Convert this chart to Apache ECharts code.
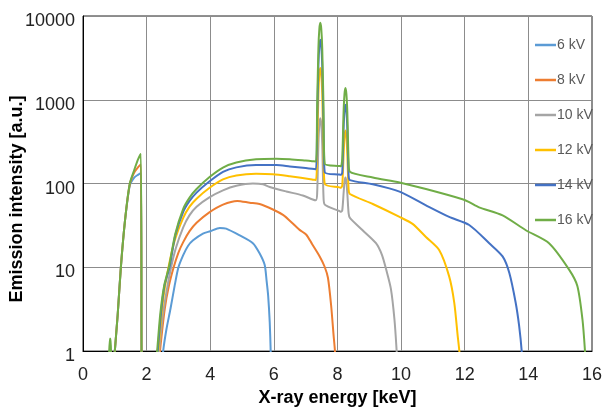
<!DOCTYPE html>
<html>
<head>
<meta charset="utf-8">
<script src="https://cdn.jsdelivr.net/npm/echarts@6/dist/echarts.min.js"></script>
<style>
html,body{margin:0;padding:0;background:#fff;}
#chart{width:605px;height:412px;}
</style>
</head>
<body>
<div id="chart"></div>
<script>
// Tick values
const xTicks = [0, 2, 4, 6, 8, 10, 12, 14, 16];
const yTicks = [1, 10, 100, 1000, 10000];
const seriesNames = ['6 kV', '8 kV', '10 kV', '12 kV', '14 kV', '16 kV'];
const seriesColors = ['#5B9BD5', '#ED7D31', '#A5A5A5', '#FFC000', '#4472C4', '#70AD47'];

// [energy keV, intensity a.u.] — values below 1 lie beneath the axis and are clipped
const kv6 = [[0.95,0.5],[1.0,1],[1.09,2.7],[1.19,10],[1.32,36],[1.47,95],[1.61,118],[1.74,128],[1.82,134],[1.84,1],[1.85,0.5],
  [2.45,0.5],[2.52,1],[2.62,1.8],[2.75,3.2],[2.88,6],[3.0,10],[3.15,14],[3.3,18],[3.46,21],[3.77,25.3],[4.0,27],[4.3,29.5],[4.5,29],[4.93,24],[5.34,19.4],[5.55,14.7],[5.71,10.7],[5.77,7],[5.82,4.6],[5.87,2.2],[5.9,1],[5.92,0.5]];
const kv8 = [[0.95,0.5],[1.0,1],[1.09,2.7],[1.19,10],[1.32,36],[1.47,98],[1.61,135],[1.74,158],[1.82,169],[1.84,1],[1.85,0.5],
  [2.35,0.5],[2.42,1],[2.57,3.2],[2.7,6],[2.85,10],[3.0,15],[3.15,20],[3.35,27],[3.57,34],[3.96,45],[4.4,56],[4.85,62],[5.24,59],[5.55,57],[5.97,49],[6.3,42],[6.5,36],[6.81,28],[7.02,24.5],[7.2,19],[7.44,13.5],[7.59,10.3],[7.7,7.5],[7.8,3.5],[7.88,1.5],[7.92,1],[7.95,0.5]];
const kv10 = [[2.32,0.5],[2.39,1],[2.5,2.5],[2.62,5],[2.77,10],[2.92,17],[3.15,30],[3.35,42],[3.57,53],[3.96,68],[4.4,83],[4.82,94],[5.34,100],[5.66,98],[5.87,91],[6.39,80.5],[6.91,72],[7.2,65],
  [7.32,63],[7.36,75],[7.40,300],[7.43,510],[7.46,600],[7.49,510],[7.52,300],[7.56,70],[7.60,56],
  [8.06,47],[8.11,46],[8.15,48],[8.19,75],[8.22,105],[8.25,118],[8.28,105],[8.31,75],[8.35,44],[8.39,39],
  [8.79,27.7],[9.21,19.4],[9.4,14],[9.53,9.4],[9.68,5.5],[9.79,2.4],[9.86,1],[9.9,0.5]];
const kv12 = [[2.3,0.5],[2.37,1],[2.47,2.8],[2.58,6],[2.73,12],[2.9,22],[3.15,39],[3.35,53],[3.57,66],[3.96,88],[4.4,112],[4.82,125],[5.44,131],[5.97,129],[6.5,122],[7.2,112],
  [7.32,110],[7.36,240],[7.40,1200],[7.43,2040],[7.46,2400],[7.49,2040],[7.52,1200],[7.56,240],[7.60,99],
  [8.06,90],[8.11,89],[8.15,95],[8.19,215],[8.22,365],[8.25,430],[8.28,365],[8.31,215],[8.35,85],[8.39,75],
  [9.11,57],[9.95,40],[10.36,33],[10.78,23],[11.2,16],[11.51,7.8],[11.67,3.8],[11.78,1.5],[11.83,1],[11.87,0.5]];
const kv14 = [[2.28,0.5],[2.35,1],[2.45,2.8],[2.56,6],[2.72,10],[2.9,24],[3.15,46],[3.35,62],[3.57,78],[3.96,105],[4.4,138],[4.82,156],[5.44,166],[6.08,166],[6.5,160],[7.0,153],[7.2,150],
  [7.32,148],[7.36,520],[7.40,2600],[7.43,4420],[7.46,5200],[7.49,4420],[7.52,2600],[7.56,520],[7.60,136],
  [8.06,128],[8.11,127],[8.15,135],[8.19,435],[8.22,740],[8.25,870],[8.28,740],[8.31,435],[8.35,125],[8.39,110],
  [9.11,98],[9.95,80],[10.78,55],[11.51,40],[12.14,32],[12.77,19.4],[13.19,13.5],[13.4,8.6],[13.6,3.8],[13.71,2],[13.79,1],[13.83,0.5]];
const kv16 = [[0.8,0.5],[0.84,1.4],[0.87,1.4],[0.9,0.5],[0.95,0.5],[1.0,1],[1.09,2.7],[1.19,10],[1.32,36],[1.47,100],[1.61,145],[1.74,198],[1.82,225],[1.84,1],[1.85,0.5],
  [2.26,0.5],[2.33,1],[2.43,2.8],[2.55,6],[2.7,10],[2.9,25],[3.15,50],[3.35,68],[3.57,86],[3.96,118],[4.4,155],[4.82,178],[5.44,195],[6.08,198],[6.5,195],[7.0,188],[7.2,185],
  [7.32,183],[7.36,830],[7.40,4150],[7.43,7050],[7.46,8300],[7.49,7050],[7.52,4150],[7.56,830],[7.60,172],
  [8.06,162],[8.11,161],[8.15,200],[8.19,690],[8.22,1170],[8.25,1380],[8.28,1170],[8.31,690],[8.35,180],[8.39,138],
  [9.11,118],[9.95,103],[10.78,86],[11.93,65],[12.14,60],[12.45,52],[13.19,41.7],[13.92,27.7],[14.65,19.4],[15.28,9.4],[15.54,6],[15.7,2.4],[15.78,1],[15.82,0.5]];

const allData = [kv6, kv8, kv10, kv12, kv14, kv16];

const chart = echarts.init(document.getElementById('chart'), null, {renderer: 'canvas'});
const font = '"Liberation Sans", Arial, sans-serif';

chart.setOption({
  animation: false,
  backgroundColor: '#fff',
  grid: {left: 83, right: 11, top: 16, bottom: 56, show: true, borderColor: '#222', borderWidth: 1, containLabel: false},
  legend: {
    orient: 'vertical', left: 530, top: 33, itemGap: 21, itemWidth: 21, itemHeight: 2.5, icon: 'rect',
    textStyle: {color: '#595959', fontSize: 14, fontFamily: font, padding: [0, 0, 0, -4]},
    data: seriesNames
  },
  xAxis: {
    type: 'value', min: xTicks[0], max: xTicks[xTicks.length-1], interval: xTicks[1]-xTicks[0],
    name: 'X-ray energy [keV]', nameLocation: 'middle', nameGap: 31,
    nameTextStyle: {fontWeight: 'bold', fontSize: 18, color: '#000', fontFamily: font},
    axisLine: {show: true, lineStyle: {color: '#000', width: 1}},
    axisTick: {show: false},
    axisLabel: {color: '#222', fontSize: 18, margin: 15, fontFamily: font},
    splitLine: {show: true, lineStyle: {color: '#8c8c8c', width: 1}}
  },
  yAxis: {
    type: 'log', logBase: 10, min: yTicks[0], max: yTicks[yTicks.length-1],
    axisLine: {show: true, lineStyle: {color: '#000', width: 1}},
    axisTick: {show: false},
    axisLabel: {color: '#222', fontSize: 18, margin: 8, fontFamily: font, verticalAlign: 'top', lineHeight: 10, formatter: v => String(Math.round(v))},
    splitLine: {show: true, lineStyle: {color: '#8c8c8c', width: 1}}
  },
  graphic: [{
    type: 'text', x: 17, y: 199, rotation: Math.PI/2,
    style: {text: 'Emission intensity [a.u.]', font: 'bold 18px "Liberation Sans", Arial, sans-serif', fill: '#000', textAlign: 'center', textVerticalAlign: 'middle'}
  }],
  series: seriesNames.map((n, i) => ({
    name: n, type: 'line', data: allData[i], symbol: 'none', smooth: 0.25,
    clip: true, color: seriesColors[i],
    lineStyle: {color: seriesColors[i], width: 2},
    z: 2 + i
  }))
});
</script>
</body>
</html>
